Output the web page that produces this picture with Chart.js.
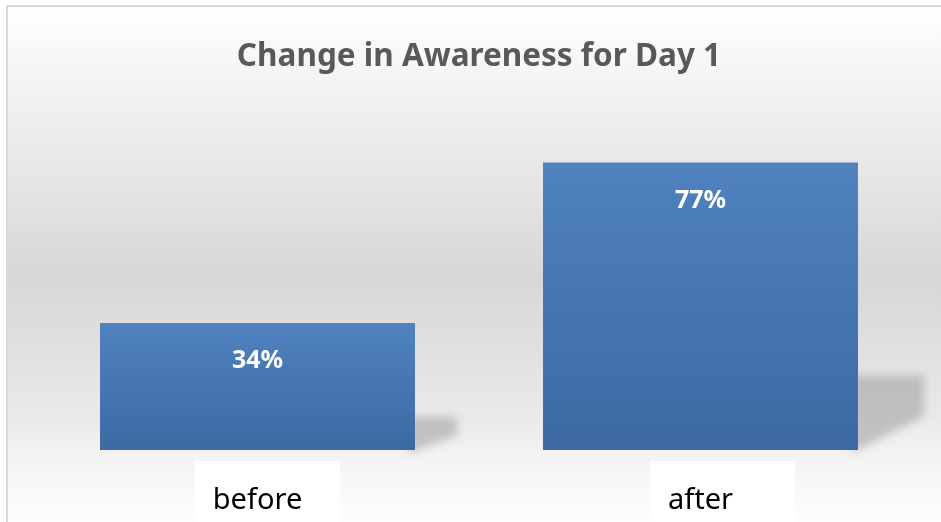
<!DOCTYPE html>
<html>
<head>
<meta charset="utf-8">
<script src="https://cdn.jsdelivr.net/npm/chart.js@4/dist/chart.umd.min.js"></script>
<style>
  html, body { margin: 0; padding: 0; background: #ffffff; }
  #wrap { width: 941px; height: 522px; position: relative; }
</style>
</head>
<body>
<div id="wrap"><canvas id="c" width="941" height="522"></canvas></div>
<script>
const titleText = 'Change in Awareness for Day 1';
const categories = ['before', 'after'];
const awareness = [34, 77];
const valueLabels = ['34%', '77%'];

const FONT = "'Noto Sans', 'Open Sans', sans-serif";

const backgroundPlugin = {
  id: 'bg',
  beforeDraw(chart) {
    const ctx = chart.ctx;
    const W = chart.width, H = chart.height;
    ctx.save();
    ctx.fillStyle = '#ffffff';
    ctx.fillRect(0, 0, W, H);
    const g = ctx.createLinearGradient(0, 5, 0, H);
    g.addColorStop(0.00, '#ffffff');
    g.addColorStop(0.22, '#eeeeee');
    g.addColorStop(0.53, '#d7d7d7');
    g.addColorStop(0.80, '#eaeaea');
    g.addColorStop(0.90, '#f6f6f6');
    g.addColorStop(1.00, '#fdfdfd');
    ctx.fillStyle = g;
    ctx.fillRect(6, 5, W - 6, H - 5);
    ctx.fillStyle = '#d9d9d9';
    ctx.fillRect(6, 5, W - 6, 2);
    ctx.fillRect(6, 5, 2, H - 5);
    // white boxes behind category labels
    const xs = chart.scales.x;
    if (xs) {
      ctx.font = '29px ' + FONT;
      ctx.fillStyle = '#ffffff';
      categories.forEach((c, i) => {
        const cx = xs.getPixelForTick(i);
        const tw = ctx.measureText(c).width;
        const left = cx - tw / 2 - 18;
        ctx.fillRect(left, chart.chartArea.bottom + 11, 145, H);
      });
    }
    ctx.restore();
  }
};

const shadowPlugin = {
  id: 'barShadow',
  beforeDatasetsDraw(chart) {
    const ctx = chart.ctx;
    const meta = chart.getDatasetMeta(0);
    const area = chart.chartArea;
    ctx.save();
    ctx.filter = 'blur(4px)';
    meta.data.forEach(bar => {
      const p = bar.getProps(['x', 'y', 'base', 'width'], true);
      const right = p.x + p.width / 2;
      const h = p.base - p.y;
      const hs = h * 0.26;
      const w = Math.min(h * 0.33, area.right + 2 - right);
      const top = p.base - hs;
      ctx.fillStyle = 'rgba(150,150,150,0.5)';
      ctx.beginPath();
      ctx.moveTo(right - 6, top);
      ctx.lineTo(right + w, top);
      ctx.lineTo(right + w, top + hs * 0.55);
      ctx.lineTo(right - 6, p.base + 3);
      ctx.closePath();
      ctx.fill();
    });
    ctx.restore();
  }
};

const valueLabelPlugin = {
  id: 'valueLabels',
  afterDatasetsDraw(chart) {
    const ctx = chart.ctx;
    const meta = chart.getDatasetMeta(0);
    ctx.save();
    ctx.font = 'bold 25px ' + FONT;
    ctx.fillStyle = '#ffffff';
    ctx.textAlign = 'center';
    ctx.textBaseline = 'middle';
    meta.data.forEach((bar, i) => {
      const p = bar.getProps(['x', 'y'], true);
      ctx.fillText(valueLabels[i], p.x, p.y + 38);
    });
    ctx.restore();
  }
};

function barGradient(context) {
  const chart = context.chart;
  const ys = chart.scales && chart.scales.y;
  if (!ys || context.dataIndex === undefined) return '#4a7ab5';
  const v = context.dataset.data[context.dataIndex];
  const top = ys.getPixelForValue(v);
  const bot = ys.getPixelForValue(0);
  if (!isFinite(top) || !isFinite(bot) || top === bot) return '#4a7ab5';
  const g = chart.ctx.createLinearGradient(0, top, 0, bot);
  g.addColorStop(0, '#4f82bf');
  g.addColorStop(1, '#3c69a2');
  return g;
}

new Chart(document.getElementById('c'), {
  type: 'bar',
  data: {
    labels: categories,
    datasets: [{
      data: awareness,
      backgroundColor: barGradient,
      borderWidth: 0,
      barPercentage: 0.711,
      categoryPercentage: 1.0
    }]
  },
  options: {
    responsive: false,
    animation: false,
    layout: { padding: { left: 36, right: 19, top: 0, bottom: 0 } },
    plugins: {
      legend: { display: false },
      tooltip: { enabled: false },
      title: {
        display: true,
        text: titleText,
        color: '#595959',
        font: { family: FONT, size: 31.5, weight: 'bold', lineHeight: 1.2 },
        padding: { top: 38, bottom: 0.7 }
      }
    },
    scales: {
      x: {
        grid: { display: false, drawTicks: false },
        border: { display: false },
        ticks: {
          color: '#000000',
          font: { family: FONT, size: 29 },
          padding: 33
        },
        afterFit(scale) { scale.height = 72; }
      },
      y: {
        display: false,
        min: 0,
        max: 100
      }
    }
  },
  plugins: [backgroundPlugin, shadowPlugin, valueLabelPlugin]
});
</script>
</body>
</html>
